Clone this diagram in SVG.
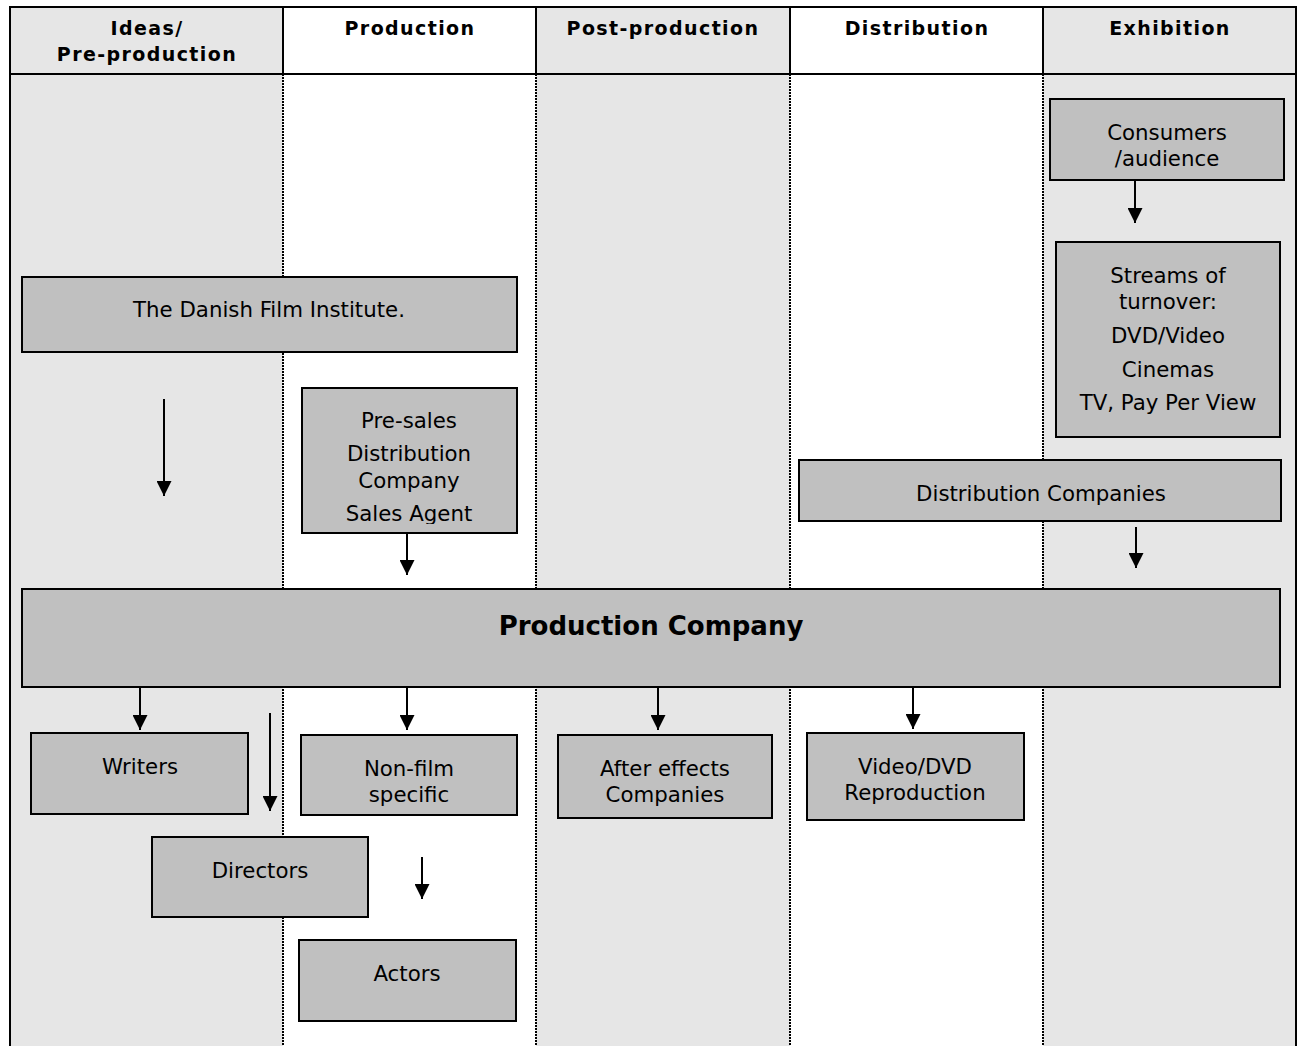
<svg xmlns="http://www.w3.org/2000/svg" width="1300" height="1046" viewBox="0 0 1300 1046">
<style>
.col{fill:#e6e6e6;stroke:none}
.node{fill:#c0c0c0;stroke:#000;stroke-width:2}
.t{font-family:"DejaVu Sans",Verdana,sans-serif;font-size:21.3px;fill:#000;text-anchor:middle}
.h{font-family:"DejaVu Sans",Verdana,sans-serif;font-size:19px;font-weight:bold;letter-spacing:1.4px;fill:#000;text-anchor:middle}
.b{font-family:"DejaVu Sans",Verdana,sans-serif;font-size:26px;font-weight:bold;fill:#000;text-anchor:middle}
.dot{stroke:#000;stroke-width:2;stroke-dasharray:2 1;fill:none}
.solid{stroke:#000;stroke-width:2;fill:none}
.c{stroke:#000;stroke-width:2;fill:none;marker-end:url(#ah)}
</style>
<defs>
<marker id="ah" viewBox="0 0 15 15" refX="15" refY="7.5" markerWidth="15" markerHeight="15" markerUnits="userSpaceOnUse" orient="auto">
<path d="M0,0 L15,7.5 L0,15 Z" fill="#000"/>
</marker>
</defs>
<rect x="0" y="0" width="1300" height="1046" fill="#fff"/>
<g id="background">
<rect class="col" x="10" y="7" width="273" height="1039"/>
<rect class="col" x="536" y="7" width="254" height="1039"/>
<rect class="col" x="1043" y="7" width="253" height="1039"/>
<line class="dot" x1="283" y1="74" x2="283" y2="1046"/>
<line class="dot" x1="536" y1="74" x2="536" y2="1046"/>
<line class="dot" x1="790" y1="74" x2="790" y2="1046"/>
<line class="dot" x1="1043" y1="74" x2="1043" y2="1046"/>
<line class="solid" x1="283" y1="7" x2="283" y2="74"/>
<line class="solid" x1="536" y1="7" x2="536" y2="74"/>
<line class="solid" x1="790" y1="7" x2="790" y2="74"/>
<line class="solid" x1="1043" y1="7" x2="1043" y2="74"/>
<line class="solid" x1="10" y1="74" x2="1296" y2="74"/>
<path class="solid" d="M10,1046 V7 H1296 V1046"/>
<text class="h" x="147" y="35">Ideas/</text>
<text class="h" x="147" y="61">Pre-production</text>
<text class="h" x="410" y="35">Production</text>
<text class="h" x="663" y="35">Post-production</text>
<text class="h" x="917" y="35">Distribution</text>
<text class="h" x="1170" y="35">Exhibition</text>
</g>
<g id="connectors">
<line class="c" x1="1135" y1="180" x2="1135" y2="223"/>
<line class="c" x1="164" y1="399" x2="164" y2="496"/>
<line class="c" x1="407" y1="533" x2="407" y2="575"/>
<line class="c" x1="1136" y1="527" x2="1136" y2="568"/>
<line class="c" x1="140" y1="688" x2="140" y2="730"/>
<line class="c" x1="270" y1="713" x2="270" y2="811"/>
<line class="c" x1="407" y1="688" x2="407" y2="730"/>
<line class="c" x1="658" y1="688" x2="658" y2="730"/>
<line class="c" x1="913" y1="688" x2="913" y2="729"/>
<line class="c" x1="422" y1="857" x2="422" y2="899"/>
</g>
<g id="consumers">
<rect class="node" x="1050" y="99" width="234" height="81"/>
<text class="t" x="1167" y="140">Consumers</text>
<text class="t" x="1167" y="166">/audience</text>
</g>
<g id="streams">
<rect class="node" x="1056" y="242" width="224" height="195"/>
<text class="t" x="1168" y="283">Streams of</text>
<text class="t" x="1168" y="309">turnover:</text>
<text class="t" x="1168" y="343">DVD/Video</text>
<text class="t" x="1168" y="377">Cinemas</text>
<text class="t" x="1168" y="410">TV, Pay Per View</text>
</g>
<g id="dfi">
<rect class="node" x="22" y="277" width="495" height="75"/>
<text class="t" x="269" y="317">The Danish Film Institute.</text>
</g>
<g id="presales">
<rect class="node" x="302" y="388" width="215" height="145"/>
<svg x="302" y="388" width="215" height="136" overflow="hidden">
<text class="t" x="107" y="40">Pre-sales</text>
<text class="t" x="107" y="73">Distribution</text>
<text class="t" x="107" y="100">Company</text>
<text class="t" x="107" y="133">Sales Agent</text>
</svg>
</g>
<g id="distcos">
<rect class="node" x="799" y="460" width="482" height="61"/>
<text class="t" x="1041" y="501">Distribution Companies</text>
</g>
<g id="prodco">
<rect class="node" x="22" y="589" width="1258" height="98"/>
<text class="b" x="651" y="635">Production Company</text>
</g>
<g id="writers">
<rect class="node" x="31" y="733" width="217" height="81"/>
<text class="t" x="140" y="774">Writers</text>
</g>
<g id="nonfilm">
<rect class="node" x="301" y="735" width="216" height="80"/>
<text class="t" x="409" y="776">Non-film</text>
<text class="t" x="409" y="802">specific</text>
</g>
<g id="aftereffects">
<rect class="node" x="558" y="735" width="214" height="83"/>
<text class="t" x="665" y="776">After effects</text>
<text class="t" x="665" y="802">Companies</text>
</g>
<g id="videodvd">
<rect class="node" x="807" y="733" width="217" height="87"/>
<text class="t" x="915" y="774">Video/DVD</text>
<text class="t" x="915" y="800">Reproduction</text>
</g>
<g id="directors">
<rect class="node" x="152" y="837" width="216" height="80"/>
<text class="t" x="260" y="878">Directors</text>
</g>
<g id="actors">
<rect class="node" x="299" y="940" width="217" height="81"/>
<text class="t" x="407" y="981">Actors</text>
</g>
</svg>
